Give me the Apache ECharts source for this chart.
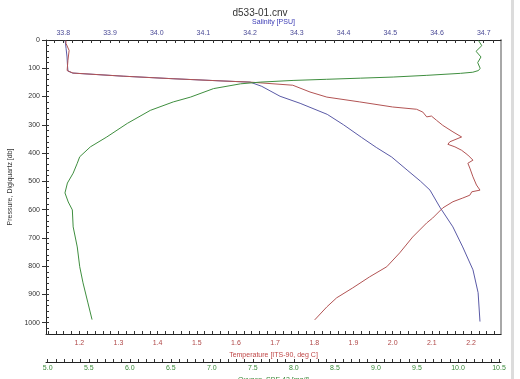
<!DOCTYPE html>
<html>
<head>
<meta charset="utf-8">
<title>d533-01.cnv</title>
<script src="https://cdn.jsdelivr.net/npm/echarts@6/dist/echarts.min.js"></script>
<style>
	html, body { margin: 0; padding: 0; background: #fff; }
	#main { width: 520px; height: 379px; }
</style>
</head>
<body>
<div id="main"></div>
<script>
// CTD profile d533-01 : pressure (db) against salinity / temperature / oxygen

// salinity [PSU]
var salPres = [2, 30, 60, 90, 110, 117, 128, 137, 145, 149, 164, 199, 224, 263, 300, 344, 380, 414, 460, 500, 531, 591, 661, 732, 813, 894, 996];
var salVals = [33.804, 33.806, 33.808, 33.809, 33.81, 33.82, 33.928, 34.035, 34.142, 34.2, 34.225, 34.264, 34.307, 34.365, 34.40, 34.438, 34.47, 34.503, 34.536, 34.565, 34.585, 34.606, 34.634, 34.655, 34.677, 34.688, 34.692];

// temperature [ITS-90, deg C]
var tempPres = [2, 12, 37, 72, 108, 117, 128, 137, 145, 149, 160, 184, 202, 219, 237, 245, 255, 272, 269, 284, 302, 325, 343, 360, 369, 378, 390, 407, 425, 436, 453, 484, 513, 531, 537, 549, 559, 572, 594, 630, 647, 697, 753, 802, 838, 877, 912, 944, 990];
var tempVals = [1.166, 1.166, 1.174, 1.171, 1.169, 1.184, 1.312, 1.439, 1.567, 1.636, 1.745, 1.789, 1.832, 1.916, 2.0, 2.061, 2.077, 2.087, 2.099, 2.112, 2.128, 2.154, 2.176, 2.146, 2.141, 2.159, 2.176, 2.192, 2.205, 2.192, 2.197, 2.205, 2.214, 2.223, 2.202, 2.197, 2.179, 2.154, 2.128, 2.102, 2.087, 2.051, 2.018, 1.985, 1.941, 1.898, 1.857, 1.832, 1.801];

// oxygen, SBE 43 [mg/l]
var oxyPres = [2, 20, 40, 60, 80, 100, 108, 114, 118, 125, 131, 135, 139, 143, 149, 155, 172, 202, 219, 249, 295, 343, 378, 413, 436, 471, 506, 541, 573, 601, 661, 732, 802, 859, 930, 989];
var oxyVals = [10.25, 10.29, 10.22, 10.28, 10.24, 10.27, 10.25, 10.18, 10.03, 9.62, 9.21, 8.81, 8.4, 7.99, 7.59, 7.35, 7.02, 6.74, 6.53, 6.25, 5.97, 5.72, 5.52, 5.39, 5.36, 5.31, 5.24, 5.21, 5.25, 5.30, 5.31, 5.36, 5.39, 5.43, 5.49, 5.54];

// tick labels
var salTicks = [33.8, 33.9, 34.0, 34.1, 34.2, 34.3, 34.4, 34.5, 34.6, 34.7];
var tempTicks = [1.2, 1.3, 1.4, 1.5, 1.6, 1.7, 1.8, 1.9, 2.0, 2.1, 2.2];
var oxyTicks = [5.0, 5.5, 6.0, 6.5, 7.0, 7.5, 8.0, 8.5, 9.0, 9.5, 10.0, 10.5];
var presTicks = [0, 100, 200, 300, 400, 500, 600, 700, 800, 900, 1000];

var FONT = 'Liberation Sans, Arial, sans-serif';

// small ticks between min and max
function minorList(min, max, step) {
	var out = [];
	var start = Math.ceil(min / step - 1e-6);
	for (var i = start; i * step <= max + 1e-9; i++) {
		out.push(Math.round(i * step * 1000) / 1000);
	}
	return out;
}

function pairs(vals, pres) {
	return vals.map(function(v, i) {
		return [v, pres[i]];
	});
}

function xAxisOf(o) {
	return {
		type: 'value',
		position: o.position,
		offset: o.offset || 0,
		min: o.min,
		max: o.max,
		name: o.name,
		nameLocation: 'middle',
		nameGap: o.nameGap,
		nameTextStyle: { color: o.nameColor, fontSize: 7, fontFamily: FONT },
		axisLine: { show: true, onZero: false, lineStyle: { color: '#222', width: 1 } },
		axisTick: { show: true, inside: true, length: 3, lineStyle: { color: '#333' }, customValues: minorList(o.min, o.max, o.step) },
		axisLabel: {
			color: o.labelColor, fontSize: 7, fontFamily: FONT, margin: o.margin,
			customValues: o.labels,
			formatter: function(v) { return v.toFixed(1); }
		},
		splitLine: { show: false }
	};
}

var myChart = echarts.init(document.getElementById('main'));

var option = {
	animation: false,
	backgroundColor: '#fff',
	title: {
		text: 'd533-01.cnv',
		left: 'center',
		top: 3,
		textStyle: { color: '#333', fontSize: 10, fontWeight: 'normal', fontFamily: FONT }
	},
	grid: { left: 46, right: 19, top: 40, bottom: 45, show: false, containLabel: false, outerBoundsMode: 'none' },
	xAxis: [
		xAxisOf({ position: 'top', min: 33.763, max: 34.737, step: 0.02, labels: salTicks,
			name: 'Salinity [PSU]', nameGap: 14, nameColor: '#3a3ab4', labelColor: '#4a4a96', margin: 3 }),
		xAxisOf({ position: 'bottom', min: 1.115, max: 2.2766, step: 0.02, labels: tempTicks,
			name: 'Temperature [ITS-90, deg C]', nameGap: 17, nameColor: '#c04848', labelColor: '#b04848', margin: 6 }),
		xAxisOf({ position: 'bottom', offset: 28, min: 4.979, max: 10.524, step: 0.1, labels: oxyTicks,
			name: 'Oxygen, SBE 43 [mg/l]', nameGap: 11, nameColor: '#3a8a3a', labelColor: '#3a8a3a', margin: 3 })
	],
	yAxis: [
		{
			type: 'value',
			inverse: true,
			min: 0,
			max: 1040,
			name: 'Pressure, Digiquartz [db]',
			nameLocation: 'middle',
			nameGap: 26,
			nameTextStyle: { color: '#333', fontSize: 7, fontFamily: FONT },
			axisLine: { show: true, onZero: false, lineStyle: { color: '#222', width: 1 } },
			axisTick: { show: true, inside: false, length: 4, lineStyle: { color: '#333' }, customValues: presTicks },
			axisLabel: {
				color: '#333', fontSize: 7, fontFamily: FONT, margin: 6, customValues: presTicks,
				formatter: function(v) { return String(v); }
			},
			splitLine: { show: false }
		},
		{
			// inner small ticks, every 20 db
			type: 'value',
			inverse: true,
			min: 0,
			max: 1040,
			position: 'left',
			axisLine: { show: false, onZero: false },
			axisTick: { show: true, inside: true, length: 3, lineStyle: { color: '#333' }, customValues: minorList(0, 1040, 20) },
			axisLabel: { show: false },
			splitLine: { show: false }
		},
		{
			// grey frame on the right
			type: 'value',
			inverse: true,
			min: 0,
			max: 1040,
			position: 'right',
			axisLine: { show: true, onZero: false, lineStyle: { color: '#a8a8a8', width: 2 } },
			axisTick: { show: false },
			axisLabel: { show: false },
			splitLine: { show: false }
		}
	],
	graphic: [{
		type: 'rect',
		shape: { x: 511, y: 0, width: 3, height: 379 },
		style: { fill: '#dcdcdc' },
		silent: true
	}],
	series: [
		{
			name: 'Salinity',
			type: 'line',
			xAxisIndex: 0,
			yAxisIndex: 0,
			showSymbol: false,
			lineStyle: { color: '#5a5aa6', width: 1 },
			data: pairs(salVals, salPres)
		},
		{
			name: 'Temperature',
			type: 'line',
			xAxisIndex: 1,
			yAxisIndex: 0,
			showSymbol: false,
			lineStyle: { color: '#b25454', width: 1 },
			data: pairs(tempVals, tempPres)
		},
		{
			name: 'Oxygen',
			type: 'line',
			xAxisIndex: 2,
			yAxisIndex: 0,
			showSymbol: false,
			lineStyle: { color: '#3f8e3f', width: 1 },
			data: pairs(oxyVals, oxyPres)
		}
	]
};

myChart.setOption(option);
</script>
</body>
</html>
